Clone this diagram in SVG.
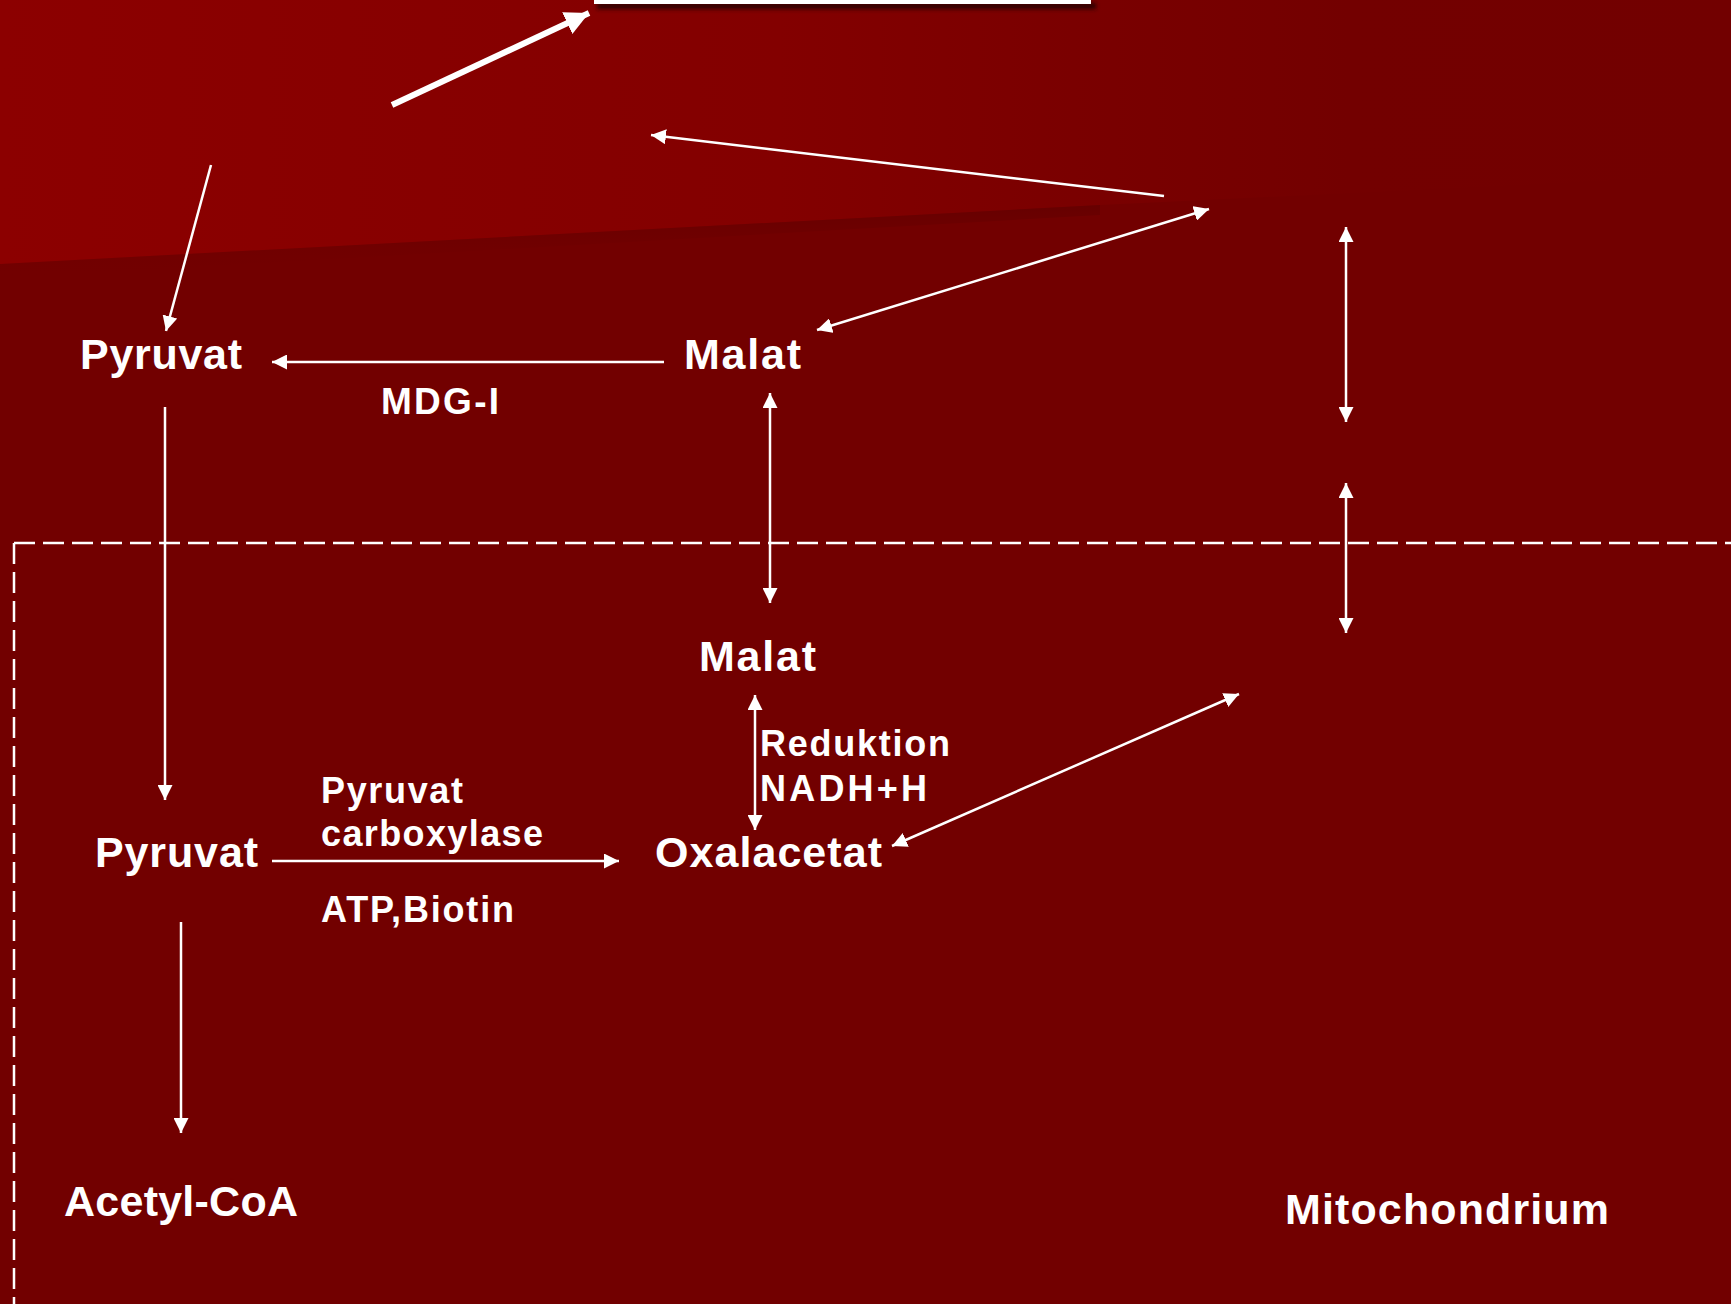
<svg xmlns="http://www.w3.org/2000/svg" width="1731" height="1304" viewBox="0 0 1731 1304">
<defs>
<linearGradient id="topg" x1="0" y1="0" x2="1" y2="0">
<stop offset="0" stop-color="#8c0000"/>
<stop offset="0.45" stop-color="#830000"/>
<stop offset="0.62" stop-color="#7a0000"/>
<stop offset="0.78" stop-color="#730000"/>
<stop offset="1" stop-color="#720000"/>
</linearGradient>
<linearGradient id="edge" x1="0" y1="0" x2="0" y2="1">
<stop offset="0" stop-color="#5a0000" stop-opacity="0.5"/>
<stop offset="1" stop-color="#720000" stop-opacity="0"/>
</linearGradient>
<filter id="blur" x="-5%" y="-100%" width="110%" height="300%">
<feGaussianBlur stdDeviation="2"/>
</filter>
<marker id="ah" viewBox="0 0 10 10" refX="10" refY="5" markerWidth="15" markerHeight="15" markerUnits="userSpaceOnUse" orient="auto-start-reverse">
<path d="M0,0 L10,5 L0,10 z" fill="#ffffff"/>
</marker>
<marker id="ahb" viewBox="0 0 10 10" refX="10" refY="5" markerWidth="24" markerHeight="24" markerUnits="userSpaceOnUse" orient="auto">
<path d="M0,0 L10,5 L0,10 z" fill="#ffffff"/>
</marker>
<style>
.t{font-family:"Liberation Sans",Arial,sans-serif;font-weight:bold;fill:#ffffff;}
.big{font-size:43px;}
.mid{font-size:37px;}
.sm{font-size:36px;}
.c{stroke:#ffffff;stroke-width:2.5;fill:none;}
.one{marker-end:url(#ah);}
.two{marker-start:url(#ah);marker-end:url(#ah);}
.dash{stroke:#ffffff;stroke-width:2.5;fill:none;stroke-dasharray:21 8;}
</style>
</defs>
<g id="background">
<rect x="0" y="0" width="1731" height="1304" fill="#720000"/>
<polygon points="0,0 1731,0 1731,175 1100,205 0,264" fill="url(#topg)"/>
<polygon points="0,264 1100,205 1100,215 0,278" fill="url(#edge)"/>
<rect x="597" y="3" width="499" height="6" fill="#2a0000" filter="url(#blur)"/>
<rect x="594" y="0" width="497" height="4" fill="#ffffff"/>
</g>
<g id="membrane">
<path class="dash" d="M14,543 H1731"/>
<path class="dash" d="M14,543 V1304"/>
</g>
<g id="connectors">
<line x1="392" y1="105" x2="589" y2="13" stroke="#ffffff" stroke-width="6" marker-end="url(#ahb)"/>
<line class="c one" x1="1164" y1="196" x2="651" y2="135"/>
<line class="c one" x1="211" y1="165" x2="166" y2="331"/>
<line class="c two" x1="817" y1="330" x2="1209" y2="209"/>
<line class="c two" x1="1346" y1="227" x2="1346" y2="422"/>
<line class="c two" x1="1346" y1="483" x2="1346" y2="633"/>
<line class="c one" x1="664" y1="362" x2="272" y2="362"/>
<line class="c one" x1="165" y1="407" x2="165" y2="800"/>
<line class="c two" x1="770" y1="393" x2="770" y2="603"/>
<line class="c two" x1="755" y1="695" x2="755" y2="830"/>
<line class="c one" x1="272" y1="861" x2="619" y2="861"/>
<line class="c two" x1="892" y1="846" x2="1239" y2="694"/>
<line class="c one" x1="181" y1="922" x2="181" y2="1133"/>
</g>
<g id="pyruvat-cyto"><text class="t big" x="80" y="369" textLength="162" lengthAdjust="spacing">Pyruvat</text></g>
<g id="malat-cyto"><text class="t big" x="684" y="369" textLength="117" lengthAdjust="spacing">Malat</text></g>
<g id="mdg-label"><text class="t mid" x="381" y="414" textLength="118" lengthAdjust="spacing">MDG-I</text></g>
<g id="malat-mito"><text class="t big" x="699" y="671" textLength="117" lengthAdjust="spacing">Malat</text></g>
<g id="reduktion-label">
<text class="t sm" x="760" y="756" textLength="190" lengthAdjust="spacing">Reduktion</text>
<text class="t sm" x="760" y="801" textLength="167" lengthAdjust="spacing">NADH+H</text>
</g>
<g id="oxalacetat"><text class="t big" x="655" y="867" textLength="227" lengthAdjust="spacing">Oxalacetat</text></g>
<g id="pyruvat-mito"><text class="t big" x="95" y="867" textLength="163" lengthAdjust="spacing">Pyruvat</text></g>
<g id="carboxylase-label">
<text class="t sm" x="321" y="803" textLength="142" lengthAdjust="spacing">Pyruvat</text>
<text class="t sm" x="321" y="846" textLength="222" lengthAdjust="spacing">carboxylase</text>
<text class="t sm" x="321" y="922" textLength="193" lengthAdjust="spacing">ATP,Biotin</text>
</g>
<g id="acetyl-coa"><text class="t big" x="64" y="1216" textLength="234" lengthAdjust="spacing">Acetyl-CoA</text></g>
<g id="mitochondrium"><text class="t big" x="1285" y="1224" textLength="324" lengthAdjust="spacing">Mitochondrium</text></g>
</svg>
